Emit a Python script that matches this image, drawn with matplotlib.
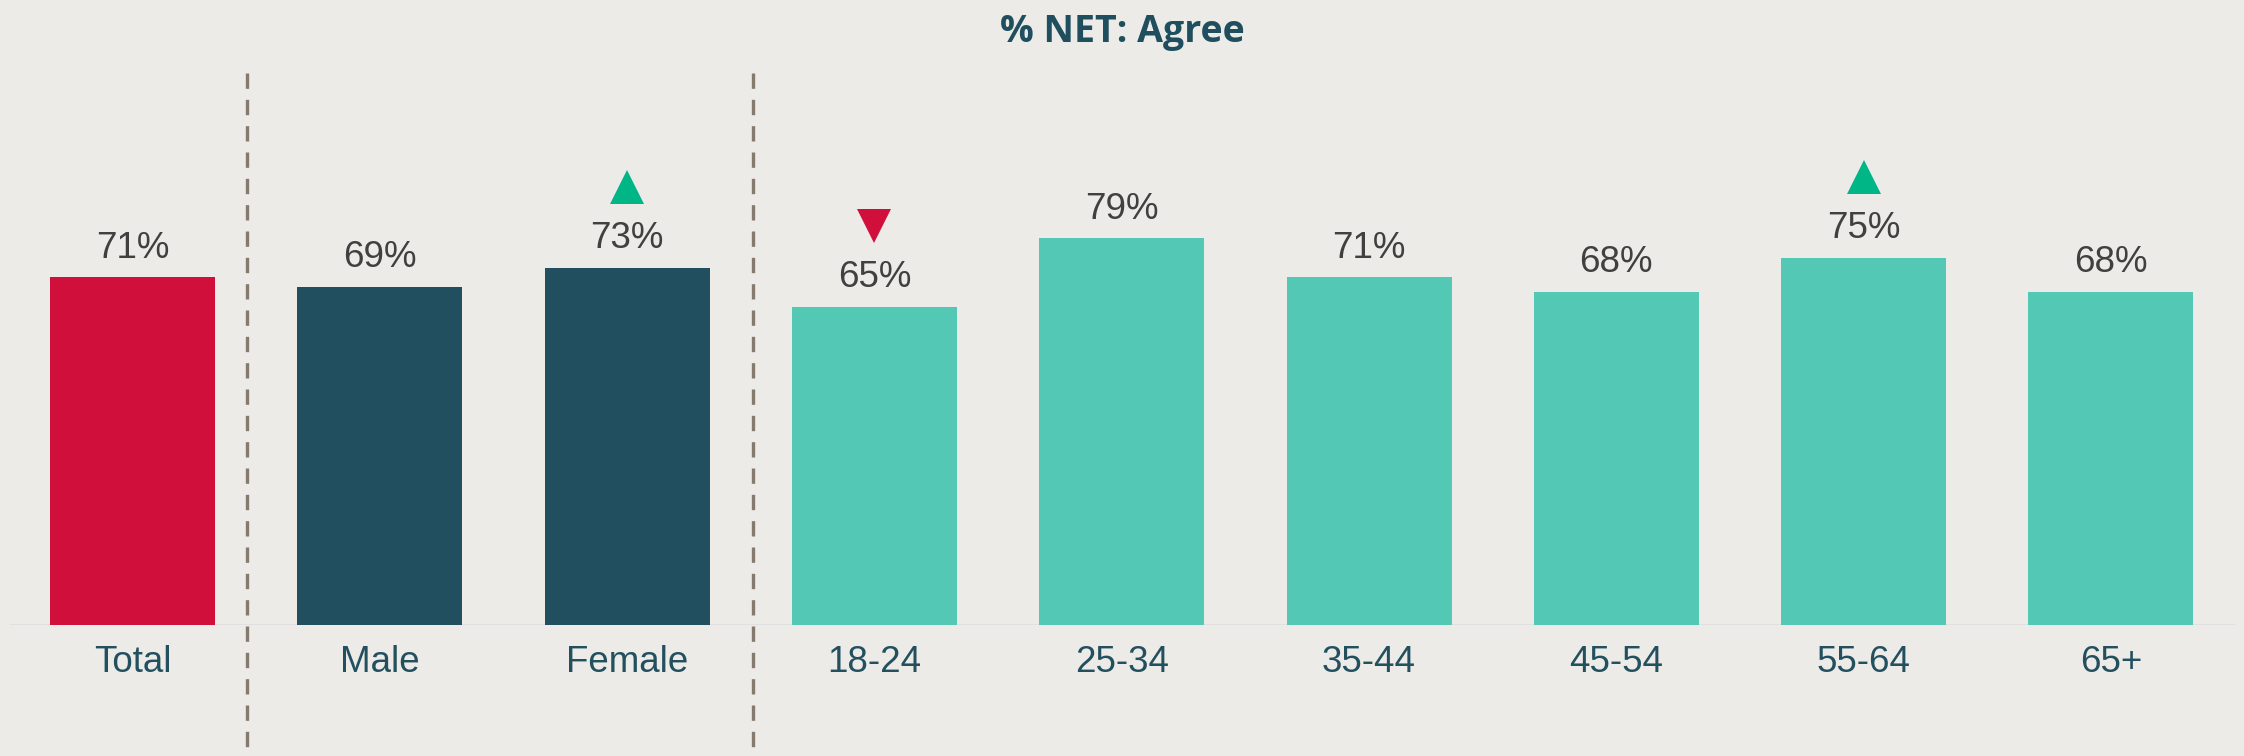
import matplotlib
matplotlib.use("Agg")
import matplotlib.pyplot as plt
import matplotlib.transforms as mtransforms

categories = ["Total", "Male", "Female", "18-24", "25-34", "35-44", "45-54", "55-64", "65+"]
values = [71, 69, 73, 65, 79, 71, 68, 75, 68]
groups = ["total", "gender", "gender", "age", "age", "age", "age", "age", "age"]
# significance vs total: 1 = higher, -1 = lower, 0 = none
signif = [0, 0, 1, -1, 0, 0, 0, 1, 0]
title = "% NET: Agree"

bg = "#ecebe7"
group_colors = {"total": "#d00f3a", "gender": "#224f5f", "age": "#52c8b5"}

fig = plt.figure(figsize=(22.44, 7.56), dpi=100)
fig.patch.set_facecolor(bg)
ax = fig.add_axes([0, 131.5 / 756, 1, 551.5 / 756])
ax.set_facecolor(bg)

x = list(range(len(categories)))
ax.bar(x, values, width=0.667, color=[group_colors[g] for g in groups], zorder=2)

ax.set_xlim(-0.5358, 8.538)
ax.set_ylim(0, 112.8)

# baseline
ax.plot([-0.5, 8.5], [0, 0], color="#e0dfe0", lw=2, zorder=1, solid_capstyle="butt")

# group separators, drawn top-down so the dash pattern starts at the top
trans = mtransforms.blended_transform_factory(ax.transData, ax.transAxes)
for sx in [0.462, 2.508]:
    ax.plot([sx, sx], [1, -131.5 / 551.5], transform=trans, color="#857a6e", lw=2.4,
            ls=(0, (4.6, 3.3)), clip_on=False, zorder=1)

for xi, v, s in zip(x, values, signif):
    ax.annotate(f"{v}%", (xi, v), xytext=(0, 14.2), textcoords="offset points",
                ha="center", va="baseline", fontsize=26.5, color="#404040",
                family="Liberation Sans")
    if s != 0:
        ax.plot([xi], [v], marker="^" if s > 0 else "v", ms=24, mew=0,
                color="#00b686" if s > 0 else "#d00f3a", ls="none",
                transform=ax.transData + mtransforms.ScaledTranslation(
                    0, 58 / 72, fig.dpi_scale_trans), clip_on=False, zorder=3)

ax.set_xticks(x)
ax.set_xticklabels(categories, fontsize=26.5, color="#23505f", family="Liberation Sans")
ax.tick_params(axis="x", length=0, pad=15)
ax.set_yticks([])
for sp in ax.spines.values():
    sp.set_visible(False)

fig.text(0.5, 1 - 42 / 756, title, ha="center", va="baseline", fontsize=27,
         fontweight="bold", color="#1f4e5f", family="Open Sans")

fig.savefig("out.png", dpi=100, facecolor=bg)
